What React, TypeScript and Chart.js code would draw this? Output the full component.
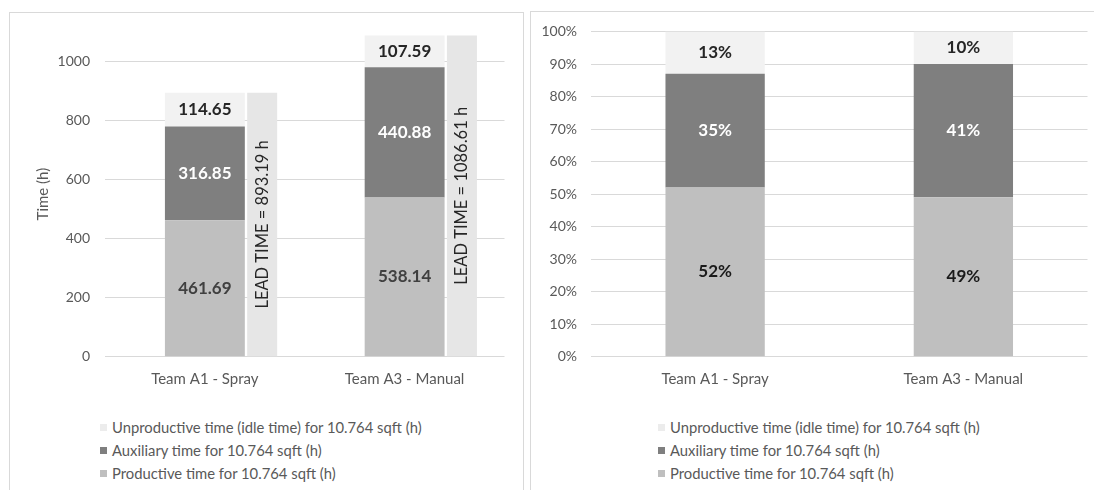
import React, { useEffect, useRef } from 'react';
import { Chart, registerables } from 'chart.js';

Chart.register(...registerables);

// ---------- data ----------
const categories = ['Team A1 - Spray', 'Team A3 - Manual'];
const productiveHours = [461.69, 538.14];
const auxiliaryHours = [316.85, 440.88];
const idleHours = [114.65, 107.59];
const leadTimeHours = [893.19, 1086.61];
const productivePct = [52, 49];
const auxiliaryPct = [35, 41];
const idlePct = [13, 10];
const hourTicks = [0, 200, 400, 600, 800, 1000];
const pctTicks = [0, 10, 20, 30, 40, 50, 60, 70, 80, 90, 100];
const seriesNames = [
  'Unproductive time (idle time) for 10.764 sqft (h)',
  'Auxiliary time for 10.764 sqft (h)',
  'Productive time for 10.764 sqft (h)',
];

// ---------- styles ----------
const FONT = 'Lato, "Open Sans", sans-serif';
const TEXT = '#595959';
const COLORS = { idle: '#f2f2f2', aux: '#7f7f7f', prod: '#bfbfbf', lead: '#e6e6e6', legendIdle: '#ececec' };
const GRID = '#d9d9d9';

Chart.defaults.font.family = FONT;

const segLabels = {
  id: 'segLabels',
  afterDatasetsDraw(chart: any) {
    const ctx = chart.ctx;
    chart.data.datasets.forEach((ds: any, i: number) => {
      const st = ds.labelStyle;
      if (!st) return;
      const meta = chart.getDatasetMeta(i);
      meta.data.forEach((el: any, j: number) => {
        const v = ds.data[j];
        if (v == null) return;
        const p = el.getProps(['x', 'y', 'base'], true);
        const cy = (p.y + p.base) / 2;
        ctx.save();
        ctx.fillStyle = st.color;
        ctx.font = st.font;
        ctx.textAlign = 'center';
        ctx.textBaseline = 'middle';
        ctx.translate(p.x, cy);
        if (st.rotate) ctx.rotate(-Math.PI / 2);
        ctx.fillText(st.fmt(v), 0, 0);
        ctx.restore();
      });
    });
  },
};

const tickFont = { family: FONT, size: 15 };
const yTickFont = { family: FONT, size: 14 };
const boldLabel = `bold 17px ${FONT}`;

function useChart(ref: React.RefObject<HTMLCanvasElement>, makeConfig: () => any) {
  useEffect(() => {
    if (!ref.current) return;
    const chart = new Chart(ref.current, makeConfig());
    return () => chart.destroy();
  }, []);
}

const hoursFmt = (v: number) => v.toFixed(2);
const pctFmt = (v: number) => `${v}%`;

// fixed y-axis width; the plot area height then depends only on layout padding
const fixY = (width: number) => (s: any) => {
  s.width = width;
  s.paddingTop = 0;
  s.paddingBottom = 0;
};

function leftConfig() {
  // stacked time bars are centred on each category
  const main = { stack: 'main', grouped: false, barPercentage: 0.4, categoryPercentage: 1, borderWidth: 0 };
  // lead-time bar sits in the last of three grouped slots (two empty slots before it)
  const side = { grouped: true, barPercentage: 0.5236, categoryPercentage: 0.8606, borderWidth: 0 };
  return {
    type: 'bar',
    data: {
      labels: categories,
      datasets: [
        { ...main, label: seriesNames[2], data: productiveHours, backgroundColor: COLORS.prod,
          labelStyle: { color: '#404040', font: boldLabel, fmt: hoursFmt } },
        { ...main, label: seriesNames[1], data: auxiliaryHours, backgroundColor: COLORS.aux,
          labelStyle: { color: '#ffffff', font: boldLabel, fmt: hoursFmt } },
        { ...main, label: seriesNames[0], data: idleHours, backgroundColor: COLORS.idle,
          labelStyle: { color: '#262626', font: boldLabel, fmt: hoursFmt } },
        { ...side, label: 'gap1', stack: 'gap1', data: [0, 0], backgroundColor: 'rgba(0,0,0,0)' },
        { ...side, label: 'gap2', stack: 'gap2', data: [0, 0], backgroundColor: 'rgba(0,0,0,0)' },
        { ...side, label: 'Lead time (h)', stack: 'lead', data: leadTimeHours, backgroundColor: COLORS.lead,
          labelStyle: { color: '#262626', font: `16.5px ${FONT}`, rotate: true, fmt: (v: number) => `LEAD TIME = ${v.toFixed(2)} h` } },
      ],
    },
    options: {
      responsive: false,
      animation: false,
      layout: { padding: { top: 19.5, right: 18.5, bottom: 0, left: 0 } },
      plugins: { legend: { display: false }, tooltip: { enabled: false } },
      scales: {
        x: {
          stacked: true,
          grid: { display: false },
          border: { display: false },
          ticks: { padding: 5, color: TEXT, font: tickFont },
          afterFit: (s: any) => { s.height = 45.3; },
        },
        y: {
          stacked: true,
          min: 0,
          max: 1100,
          afterBuildTicks: (s: any) => { s.ticks = hourTicks.map((value) => ({ value })); },
          afterFit: fixY(96),
          grid: { color: GRID, drawTicks: false },
          border: { display: false },
          ticks: { padding: 15, color: TEXT, font: yTickFont, callback: (v: any) => String(v) },
          title: { display: true, text: 'Time (h)', color: TEXT, font: tickFont, padding: { top: 25, bottom: 0 } },
        },
      },
    },
    plugins: [segLabels],
  };
}

function rightConfig() {
  const main = { stack: 'main', barPercentage: 0.4, categoryPercentage: 1, borderWidth: 0 };
  return {
    type: 'bar',
    data: {
      labels: categories,
      datasets: [
        { ...main, label: seriesNames[2], data: productivePct, backgroundColor: COLORS.prod,
          labelStyle: { color: '#1a1a1a', font: boldLabel, fmt: pctFmt } },
        { ...main, label: seriesNames[1], data: auxiliaryPct, backgroundColor: COLORS.aux,
          labelStyle: { color: '#ffffff', font: boldLabel, fmt: pctFmt } },
        { ...main, label: seriesNames[0], data: idlePct, backgroundColor: COLORS.idle,
          labelStyle: { color: '#262626', font: boldLabel, fmt: pctFmt } },
      ],
    },
    options: {
      responsive: false,
      animation: false,
      layout: { padding: { top: 19.5, right: 6.5, bottom: 0, left: 0 } },
      plugins: { legend: { display: false }, tooltip: { enabled: false } },
      scales: {
        x: {
          stacked: true,
          grid: { display: false },
          border: { display: false },
          ticks: { padding: 5, color: TEXT, font: tickFont },
          afterFit: (s: any) => { s.height = 45.3; },
        },
        y: {
          stacked: true,
          min: 0,
          max: 100,
          afterBuildTicks: (s: any) => { s.ticks = pctTicks.map((value) => ({ value })); },
          afterFit: fixY(61),
          grid: { color: GRID, drawTicks: false },
          border: { display: false },
          ticks: { padding: 14, color: TEXT, font: yTickFont, callback: (v: any) => `${v}%` },
        },
      },
    },
    plugins: [segLabels],
  };
}

const legendColors = [COLORS.legendIdle, COLORS.aux, COLORS.prod];
const legendRowCenters = [427, 450, 473];

function Legend({ boxLeft }: { boxLeft: number }) {
  return (
    <>
      {seriesNames.map((name, i) => (
        <div
          key={name}
          style={{
            position: 'absolute',
            left: boxLeft,
            top: legendRowCenters[i] - 9,
            height: 18,
            display: 'flex',
            alignItems: 'center',
            whiteSpace: 'nowrap',
            fontFamily: FONT,
            fontSize: 14.8,
            color: TEXT,
          }}
        >
          <span style={{ display: 'inline-block', width: 7, height: 7, background: legendColors[i], marginRight: 5 }} />
          <span>{name}</span>
        </div>
      ))}
    </>
  );
}

export default function App() {
  const leftRef = useRef<HTMLCanvasElement>(null);
  const rightRef = useRef<HTMLCanvasElement>(null);
  useChart(leftRef, leftConfig);
  useChart(rightRef, rightConfig);

  return (
    <div style={{ position: 'absolute', left: 0, top: 0, width: 1094, height: 490, overflow: 'hidden', background: '#fff' }}>
      <div style={{ position: 'absolute', left: 9, top: 12, width: 513, height: 500, border: `1px solid ${GRID}` }} />
      <div style={{ position: 'absolute', left: 530, top: 11, width: 620, height: 500, border: `1px solid ${GRID}` }} />
      <canvas ref={leftRef} width={514} height={390} style={{ position: 'absolute', left: 9, top: 12 }} />
      <canvas ref={rightRef} width={564} height={390} style={{ position: 'absolute', left: 530, top: 12 }} />
      <Legend boxLeft={100} />
      <div style={{ position: 'absolute', left: 558, top: 0 }}>
        <Legend boxLeft={100} />
      </div>
    </div>
  );
}
